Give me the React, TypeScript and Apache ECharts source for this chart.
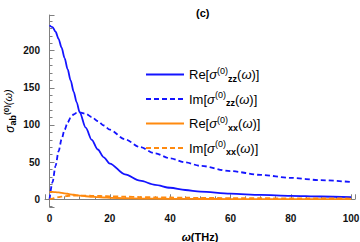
import React, { useEffect, useRef } from 'react';
import * as echarts from 'echarts';

const omega = [0, 1, 2, 3, 4, 5, 6, 7, 8, 9, 10, 12, 14, 16, 18, 20, 25, 30, 35, 40, 45, 50, 60, 70, 80, 90, 100];
const reZZ = [234, 231.7, 225.5, 216, 204, 190, 175, 160, 145, 130.5, 117, 96.5, 80, 67, 56.5, 48, 33.5, 25, 19.5, 15.5, 12.5, 10.3, 7.5, 5.8, 4.6, 3.7, 3.0];
const imZZ = [0, 23.2, 45.0, 64.4, 80.7, 93.6, 103.2, 109.9, 114.1, 116.4, 117.0, 115.1, 110.7, 105.2, 99.3, 93.6, 80.7, 70.2, 61.8, 55.1, 49.6, 45.0, 37.9, 32.8, 28.8, 25.7, 23.2];
const reXX = [10, 9.9, 9.6, 9.2, 8.6, 8.0, 7.4, 6.7, 6.1, 5.5, 5.0, 4.1, 3.4, 2.8, 2.4, 2.0, 1.4, 1.0, 0.8, 0.6, 0.5, 0.4, 0.3, 0.2, 0.15, 0.12, 0.1];
const imXX = [0, 1.0, 1.9, 2.8, 3.5, 4.0, 4.4, 4.7, 4.9, 5.0, 5.0, 4.9, 4.7, 4.5, 4.3, 4.0, 3.5, 3.0, 2.6, 2.4, 2.1, 1.9, 1.6, 1.4, 1.2, 1.1, 1.0];

const seriesNames = ['Re[σ(0)zz(ω)]', 'Im[σ(0)zz(ω)]', 'Re[σ(0)xx(ω)]', 'Im[σ(0)xx(ω)]'];
const legendRich = [
  '{n|Re[}{it|σ}{sup|(0)}{sub|zz}{n|(}{it|ω}{n|)]}',
  '{n|Im[}{it|σ}{sup|(0)}{sub|zz}{n|(}{it|ω}{n|)]}',
  '{n|Re[}{it|σ}{sup|(0)}{sub|xx}{n|(}{it|ω}{n|)]}',
  '{n|Im[}{it|σ}{sup|(0)}{sub|xx}{n|(}{it|ω}{n|)]}',
];
const BLUE = '#1414ff';
const ORANGE = '#ff8a0f';

export default function App() {
  const ref = useRef<HTMLDivElement>(null);
  useEffect(() => {
    const chart = echarts.init(ref.current!, null, { renderer: 'svg' });
    const font = 'Liberation Sans';
    const pairs = (ys: number[]) => omega.map((x, i) => [x, ys[i]]);
    const rich: any = {
      n: { fontSize: 13, fontFamily: font, color: '#000', verticalAlign: 'middle' },
      it: { fontSize: 13, fontFamily: font, fontStyle: 'italic', color: '#000', verticalAlign: 'middle' },
      sup: { fontSize: 9, fontFamily: font, color: '#000', padding: [0, 0, 8, 0], verticalAlign: 'middle' },
      sub: { fontSize: 9, fontFamily: font, fontWeight: 'bold', color: '#000', padding: [8, 0, 0, 0], verticalAlign: 'middle' },
    };
    const yRich: any = {
      it: { fontSize: 12, fontFamily: font, fontStyle: 'italic', color: '#000', verticalAlign: 'middle' },
      sub: { fontSize: 9, fontFamily: font, fontWeight: 'bold', color: '#000', padding: [6, 0, 0, 0], verticalAlign: 'middle' },
      sup: { fontSize: 8, fontFamily: font, fontWeight: 'bold', color: '#000', padding: [0, 0, 7, 0], verticalAlign: 'middle' },
      w: { fontSize: 11, fontFamily: font, fontStyle: 'italic', color: '#000', padding: [0, 0, 3, 0], verticalAlign: 'middle' },
    };
    const axisCommon = {
      axisLine: { lineStyle: { color: '#808080', width: 1 } },
      axisTick: { show: true, inside: true, length: 5, lineStyle: { color: '#808080' } },
      minorTick: { show: true, length: 3, lineStyle: { color: '#808080' } },
      splitLine: { show: false },
      axisLabel: { fontFamily: font, fontSize: 10, fontWeight: 'bold', color: '#111', showMinLabel: false, showMaxLabel: false },
    };
    const mk = (i: number, ys: number[], color: string, dashed: boolean, z: number) => ({
      name: seriesNames[i],
      type: 'line',
      data: pairs(ys),
      smooth: 0.3,
      smoothMonotone: 'x',
      symbol: 'none',
      showSymbol: false,
      z,
      lineStyle: { color, width: 1.8, type: dashed ? [5, 3] : 'solid' },
      itemStyle: { color },
    });
    chart.setOption({
      animation: false,
      title: {
        text: '(c)', left: 191, top: 2,
        textStyle: { fontFamily: font, fontSize: 11, fontWeight: 'bold', color: '#000' },
      },
      legend: {
        orient: 'vertical', left: 140, top: 61, itemWidth: 38, itemHeight: 14, itemGap: 7.5,
        data: seriesNames,
        itemStyle: { opacity: 0, borderWidth: 0 },
        formatter: (name: string) => legendRich[seriesNames.indexOf(name)],
        textStyle: { rich, fontFamily: font, fontSize: 13, color: '#000' },
      },
      grid: { left: 45, right: 5, top: 15, bottom: 35, containLabel: false, outerBoundsMode: 'none' },
      xAxis: {
        type: 'value', min: -1.5, max: 101.3, splitNumber: 5,
        ...axisCommon,
        minorTick: { ...axisCommon.minorTick, splitNumber: 4 },
        axisLabel: { ...axisCommon.axisLabel, margin: 6 },
        name: '{it|ω}{n|(THz)}', nameLocation: 'middle', nameGap: 24, nameMoveOverlap: false,
        nameTextStyle: {
          rich: {
            it: { fontFamily: font, fontSize: 11, fontStyle: 'italic', fontWeight: 'bold', color: '#000' },
            n: { fontFamily: font, fontSize: 11, fontWeight: 'bold', color: '#000' },
          },
        },
      },
      yAxis: {
        type: 'value', min: -10.4, max: 248, splitNumber: 5,
        ...axisCommon,
        minorTick: { ...axisCommon.minorTick, splitNumber: 5 },
        axisLabel: { ...axisCommon.axisLabel, margin: 5 },
        name: '{it|σ}{sub|ab}{sup|(0)}{w|(ω)}', nameLocation: 'middle', nameGap: 28, nameRotate: 90, nameMoveOverlap: false,
        nameTextStyle: { rich: yRich },
      },
      series: [
        mk(0, reZZ, BLUE, false, 2),
        mk(1, imZZ, BLUE, true, 3),
        mk(2, reXX, ORANGE, false, 4),
        mk(3, imXX, ORANGE, true, 5),
      ],
    });
    return () => chart.dispose();
  }, []);
  return <div ref={ref} style={{ width: 360, height: 242, position: 'absolute', left: 0, top: 0 }} />;
}
